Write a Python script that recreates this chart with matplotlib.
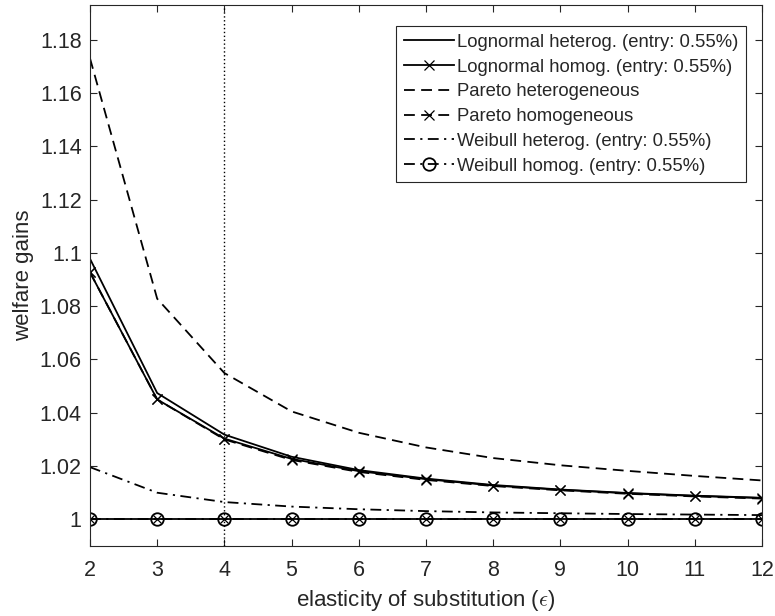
import matplotlib
matplotlib.use("Agg")
import matplotlib.pyplot as plt
from matplotlib.ticker import FuncFormatter

plt.rcParams['font.family'] = ['Liberation Sans', 'DejaVu Sans']
plt.rcParams['mathtext.fontset'] = 'cm'

eps = [2, 3, 4, 5, 6, 7, 8, 9, 10, 11, 12]

logn_het = [1.0978, 1.0474, 1.0318, 1.0235, 1.0185, 1.0153, 1.0129, 1.0112, 1.0099, 1.0089, 1.0081]
logn_hom = [1.0927, 1.0450, 1.0303, 1.0227, 1.0181, 1.0151, 1.0127, 1.0111, 1.0098, 1.0088, 1.0080]
pareto_het = [1.1730, 1.0828, 1.0549, 1.0405, 1.0325, 1.0270, 1.0230, 1.0203, 1.0182, 1.0163, 1.0146]
pareto_hom = [1.0927, 1.0450, 1.0300, 1.0223, 1.0178, 1.0148, 1.0125, 1.0109, 1.0096, 1.0086, 1.0078]
weib_het = [1.0196, 1.0100, 1.0065, 1.0048, 1.0038, 1.0031, 1.0026, 1.0023, 1.0020, 1.0018, 1.0016]
weib_hom = [1.0, 1.0, 1.0, 1.0, 1.0, 1.0, 1.0, 1.0, 1.0, 1.0, 1.0]
no_gain = [1.0, 1.0, 1.0, 1.0, 1.0, 1.0, 1.0, 1.0, 1.0, 1.0, 1.0]

labels = ['Lognormal heterog. (entry: 0.55%)', 'Lognormal homog. (entry: 0.55%)',
          'Pareto heterogeneous', 'Pareto homogeneous',
          'Weibull heterog. (entry: 0.55%)', 'Weibull homog. (entry: 0.55%)']

grey = '#262626'
dash = (0, (6, 3.5))
dashdot = (0, (6, 3, 1.2, 3))

fig = plt.figure(figsize=(7.75, 6.16), dpi=100)
ax = fig.add_axes([0.1161, 0.1136, 0.8671, 0.8783])

lw = 1.3
ax.plot(eps, logn_het, color='k', lw=lw, ls='-', label=labels[0])
ax.plot(eps, logn_hom, color='k', lw=lw, ls='-', marker='x', ms=7, mew=0.9, label=labels[1])
ax.plot(eps, pareto_het, color='k', lw=lw, ls=dash, label=labels[2])
ax.plot(eps, pareto_hom, color='k', lw=lw, ls=dash, marker='x', ms=7, mew=0.9, label=labels[3])
ax.plot(eps, weib_het, color='k', lw=lw, ls=dashdot, label=labels[4])
ax.plot(eps, weib_hom, color='k', lw=lw, ls=dashdot, marker='o', ms=9, mew=1.3,
        mfc='none', label=labels[5])
ax.plot(eps, no_gain, color='k', lw=lw, ls='-', marker='x', ms=6, mew=0.9)

# reference elasticity
ax.axvline(4, color='k', lw=1.0, ls=(0, (1, 1.8)))

ax.set_xlim(2, 12)
ax.set_ylim(0.99, 1.193)
ax.set_xticks(eps)
ax.set_yticks([1.0, 1.02, 1.04, 1.06, 1.08, 1.1, 1.12, 1.14, 1.16, 1.18])
ax.yaxis.set_major_formatter(FuncFormatter(lambda v, p: '%g' % round(v, 2)))

ax.tick_params(direction='in', top=True, right=True, length=5, width=0.8,
               colors=grey, labelsize=15.5)
ax.tick_params(axis='x', pad=10)
ax.tick_params(axis='y', pad=6)
for s in ax.spines.values():
    s.set_color(grey)
    s.set_linewidth(0.8)

ax.set_xlabel(r'elasticity of substitution ($\epsilon$)', fontsize=16, color=grey, labelpad=5)
ax.set_ylabel('welfare gains', fontsize=16, color=grey, labelpad=4)

leg = ax.legend(loc='upper right', bbox_to_anchor=(0.976, 0.961), fontsize=13.3,
                frameon=True, fancybox=False, edgecolor=grey, framealpha=1,
                handlelength=2.7, handletextpad=0.15, labelspacing=0.42,
                borderpad=0.42, borderaxespad=0.0)
leg.get_frame().set_linewidth(0.8)
for t in leg.get_texts():
    t.set_color(grey)

fig.savefig('out.png', dpi=100)
